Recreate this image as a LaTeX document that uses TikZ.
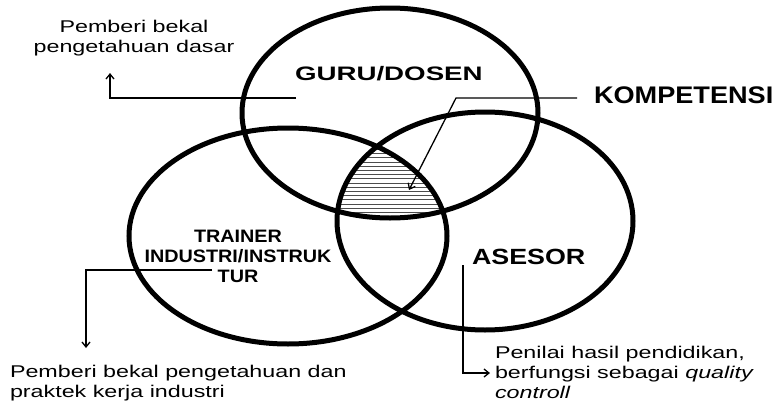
\documentclass[tikz,border=0pt]{standalone}
\usepackage{fontspec}
\usetikzlibrary{arrows.meta}
\setmainfont{Liberation Sans}
\newfontfamily\fnote{Liberation Sans}[FakeStretch=1.37]
\newfontfamily\fguru{Liberation Sans}[FakeStretch=1.42]
\newfontfamily\fkomp{Liberation Sans}[FakeStretch=1.13]
\newfontfamily\fases{Liberation Sans}[FakeStretch=1.22]
\newfontfamily\ftrain{Liberation Sans}[FakeStretch=1.1]
\newcommand\stackl[2]{\begin{tabular}[t]{@{}#1@{}}#2\end{tabular}}
\tikzset{
  ring/.style={line width=5pt},
  hatchline/.style={line width=0.9pt, black!70},
  conn/.style={line width=1.3pt, -{Straight Barb[length=5pt,width=8pt]}},
  plainlbl/.style={inner sep=0pt, outer sep=0pt},
  note/.style={plainlbl, font=\fnote\fontsize{17}{20}\selectfont},
  guru/.style={plainlbl, font=\fguru\bfseries\fontsize{19.5}{22}\selectfont},
  komp/.style={plainlbl, font=\fkomp\bfseries\fontsize{24}{26}\selectfont},
  ases/.style={plainlbl, font=\fases\bfseries\fontsize{22}{24}\selectfont},
  train/.style={plainlbl, font=\ftrain\bfseries\fontsize{18}{20}\selectfont},
}
\begin{document}
\begin{tikzpicture}[x=1pt,y=-1pt]
\useasboundingbox (0,0) rectangle (780,407);
% hatched intersection
\begin{scope}
  \clip (390,113) ellipse [x radius=148pt, y radius=105pt];
  \clip (288,236) ellipse [x radius=159pt, y radius=108pt];
  \clip (485,221) ellipse [x radius=148pt, y radius=109pt];
  \foreach \k in {0,...,24} \draw[hatchline] (330,{141+4.2*\k}) -- (470,{141+4.2*\k});
\end{scope}
% ellipses
\draw[ring] (390,113) ellipse [x radius=148pt, y radius=105pt];
\draw[ring] (288,236) ellipse [x radius=159pt, y radius=108pt];
\draw[ring] (485,221) ellipse [x radius=148pt, y radius=109pt];
% labels
\node[guru, anchor=base west] (guru) at (295,80) {GURU/DOSEN};
\node[komp, anchor=base west] (komp) at (594,103) {KOMPETENSI};
\node[ases, anchor=base west] (ases) at (472,264) {ASESOR};
\node[train, anchor=base] (train) at (238,242) {\stackl{c}{TRAINER\\INDUSTRI/INSTRUK\\TUR}};
\node[note, anchor=base] (n1) at (134,32) {\stackl{c}{Pemberi bekal\\pengetahuan dasar}};
\node[note, anchor=base west] (n2) at (10,377) {\stackl{l}{Pemberi bekal pengetahuan dan\\praktek kerja industri}};
\node[note, anchor=base west] (n3) at (495,358) {\stackl{l}{Penilai hasil pendidikan,\\berfungsi sebagai \textit{quality}\\\textit{controll}}};
% connectors
\coordinate (g0) at (296,98);
\coordinate (g1) at (110,73);
\draw[conn] (g0) -| (g1);
\coordinate (k0) at (577,98);
\coordinate (k1) at (456,98);
\coordinate (k2) at (409,190);
\draw[conn] (k0) -- (k1) -- (k2);
\coordinate (t0) at (212,270);
\coordinate (t1) at (86,348);
\draw[conn] (t0) -| (t1);
\coordinate (a0) at (463,265);
\coordinate (a1) at (490,373);
\draw[conn] (a0) |- (a1);
\end{tikzpicture}
\end{document}
